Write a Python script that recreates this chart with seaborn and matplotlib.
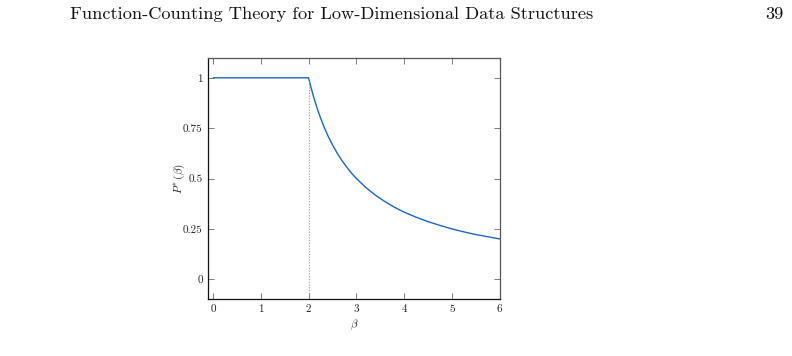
import pandas as pd
import seaborn as sns
import matplotlib.pyplot as plt

# Values
beta = [0.0, 0.5, 1.0, 1.5, 2.0, 2.05, 2.1, 2.15, 2.2, 2.3, 2.4, 2.5, 2.6, 2.7,
        2.8, 2.9, 3.0, 3.2, 3.4, 3.6, 3.8, 4.0, 4.25, 4.5, 4.75, 5.0, 5.25,
        5.5, 5.75, 6.0]
p_star = [1.0, 1.0, 1.0, 1.0, 1.0, 0.952, 0.909, 0.870, 0.833, 0.769, 0.714,
          0.667, 0.625, 0.588, 0.556, 0.526, 0.500, 0.455, 0.417, 0.385,
          0.357, 0.333, 0.308, 0.286, 0.267, 0.250, 0.235, 0.222, 0.211, 0.200]
threshold = 2.0

x_ticks = [0, 1, 2, 3, 4, 5, 6]
y_ticks = [0, 0.25, 0.5, 0.75, 1]
y_tick_labels = ["0", "0.25", "0.5", "0.75", "1"]

header = "Function-Counting Theory for Low-Dimensional Data Structures"
page_number = "39"

df = pd.DataFrame({"beta": beta, "p": p_star})

sns.set_theme(style="ticks")
plt.rcParams["font.family"] = ["cmr10", "DejaVu Serif"]
plt.rcParams["mathtext.fontset"] = "cm"
plt.rcParams["axes.formatter.use_mathtext"] = True

fig = plt.figure(figsize=(7.92, 3.56), dpi=100)
ax = fig.add_axes([0.263, 0.159, 0.368, 0.679])

sns.lineplot(data=df, x="beta", y="p", ax=ax, color="#1a66c2", linewidth=1.0)
ax.vlines(threshold, -0.1, 1.0, colors="#999999", linestyles=(0, (1, 1.5)),
          linewidth=0.8)

ax.set_xlim(-0.1, 6.0)
ax.set_ylim(-0.1, 1.1)
ax.set_xticks(x_ticks)
ax.set_xticklabels([str(t) for t in x_ticks])
ax.set_yticks(y_ticks)
ax.set_yticklabels(y_tick_labels)
ax.tick_params(direction="in", top=True, right=True, length=4, width=0.6,
               color="#666666", labelsize=8, labelcolor="#222222", pad=4)

for side in ["left", "bottom"]:
    ax.spines[side].set_color("#111111")
    ax.spines[side].set_linewidth(0.9)
for side in ["top", "right"]:
    ax.spines[side].set_visible(True)
    ax.spines[side].set_color("#555555")
    ax.spines[side].set_linewidth(0.9)

ax.set_xlabel(r"$\beta$", fontsize=8, labelpad=2)
ax.set_ylabel(r"$P^{*}\,(\beta)$", fontsize=8, labelpad=-3)

fig.text(0.089, 0.96, header, fontsize=13.2, va="center", ha="left", color="#111111")
fig.text(0.989, 0.96, page_number, fontsize=13.2, va="center", ha="right", color="#111111")

fig.savefig("out.png", dpi=100)
